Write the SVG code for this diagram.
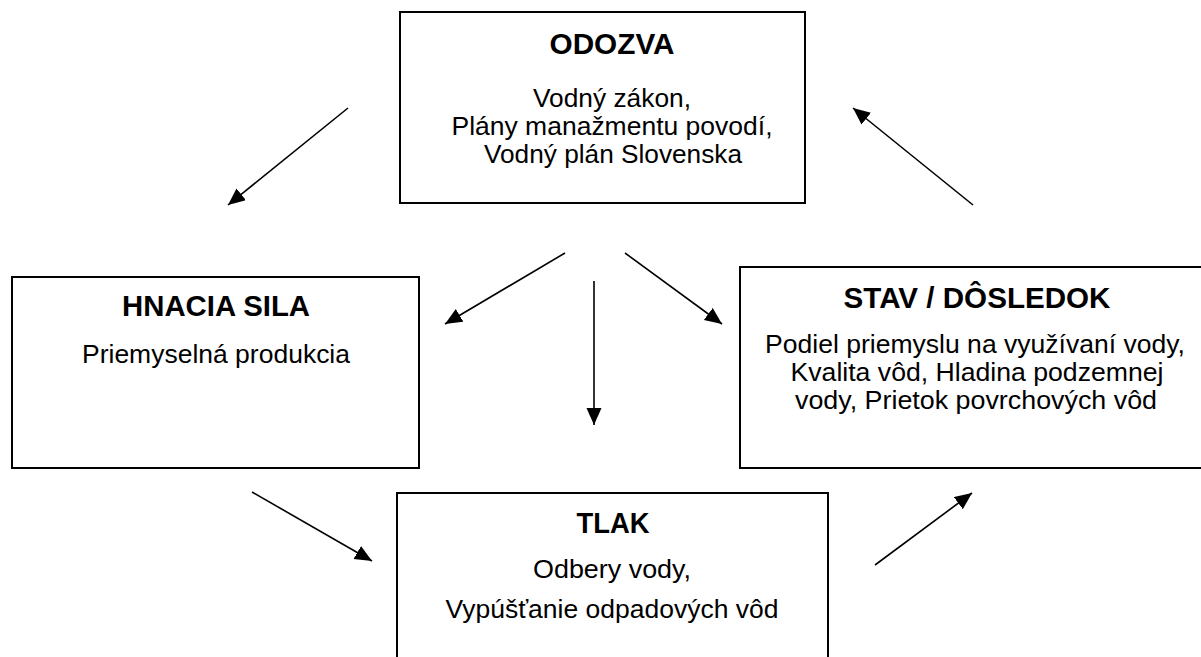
<svg xmlns="http://www.w3.org/2000/svg" width="1201" height="657" viewBox="0 0 1201 657">
<style>
.box{fill:#fff;stroke:#000;stroke-width:2}
.t{font-family:"Liberation Sans",Arial,sans-serif;font-weight:bold;font-size:29px;text-anchor:middle;fill:#000}
.b{font-family:"Liberation Sans",Arial,sans-serif;font-size:26px;text-anchor:middle;fill:#000}
.c{stroke:#000;stroke-width:1.6;fill:none;marker-end:url(#ah)}
</style>
<defs>
<marker id="ah" markerWidth="18" markerHeight="16" refX="17" refY="7.5" orient="auto" markerUnits="userSpaceOnUse">
<path d="M0,0 L17,7.5 L0,15 z" fill="#000"/>
</marker>
</defs>
<rect width="1201" height="657" fill="#fff"/>
<g id="odozva">
<rect class="box" x="400" y="12" width="405" height="191"/>
<text class="t" x="612" y="54" textLength="125" lengthAdjust="spacingAndGlyphs">ODOZVA</text>
<text class="b" x="612" y="107" textLength="158" lengthAdjust="spacingAndGlyphs">Vodný zákon,</text>
<text class="b" x="612" y="135" textLength="321" lengthAdjust="spacingAndGlyphs">Plány manažmentu povodí,</text>
<text class="b" x="613" y="163" textLength="258" lengthAdjust="spacingAndGlyphs">Vodný plán Slovenska</text>
</g>
<g id="hnacia-sila">
<rect class="box" x="12" y="277" width="407" height="191"/>
<text class="t" x="216" y="316" textLength="188" lengthAdjust="spacingAndGlyphs">HNACIA SILA</text>
<text class="b" x="216" y="363" textLength="268" lengthAdjust="spacingAndGlyphs">Priemyselná produkcia</text>
</g>
<g id="stav-dosledok">
<rect class="box" x="740" y="267" width="470" height="201"/>
<text class="t" x="977" y="308" textLength="267" lengthAdjust="spacingAndGlyphs">STAV / DÔSLEDOK</text>
<text class="b" x="975" y="353" textLength="420" lengthAdjust="spacingAndGlyphs">Podiel priemyslu na využívaní vody,</text>
<text class="b" x="977" y="381" textLength="373" lengthAdjust="spacingAndGlyphs">Kvalita vôd, Hladina podzemnej</text>
<text class="b" x="976" y="409" textLength="362" lengthAdjust="spacingAndGlyphs">vody, Prietok povrchových vôd</text>
</g>
<g id="tlak">
<rect class="box" x="397" y="493" width="431" height="180"/>
<text class="t" x="613" y="533" textLength="73" lengthAdjust="spacingAndGlyphs">TLAK</text>
<text class="b" x="612" y="578" textLength="158" lengthAdjust="spacingAndGlyphs">Odbery vody,</text>
<text class="b" x="612" y="618" textLength="333" lengthAdjust="spacingAndGlyphs">Vypúšťanie odpadových vôd</text>
</g>
<g id="connectors">
<line class="c" x1="348" y1="108" x2="228" y2="205"/>
<line class="c" x1="973" y1="205" x2="853" y2="108"/>
<line class="c" x1="565" y1="253" x2="445" y2="324"/>
<line class="c" x1="594" y1="281" x2="594" y2="425"/>
<line class="c" x1="625" y1="253" x2="722" y2="324"/>
<line class="c" x1="252" y1="492" x2="372" y2="561"/>
<line class="c" x1="875" y1="565" x2="972" y2="493"/>
</g>
</svg>
